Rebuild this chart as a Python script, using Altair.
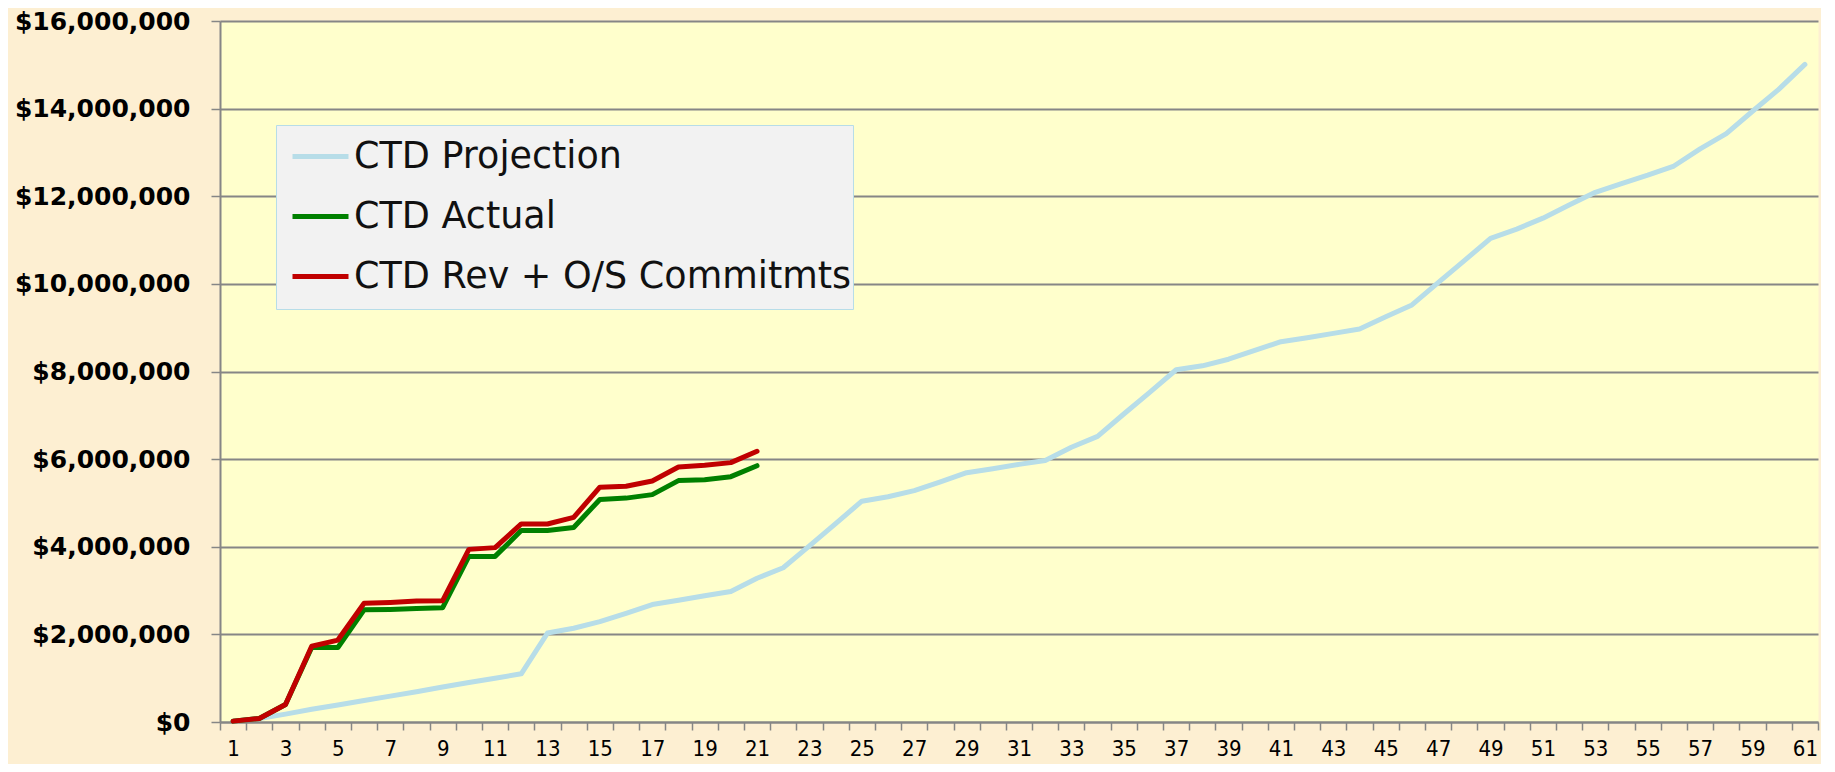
import altair as alt
import pandas as pd

periods = list(range(1, 62))

projection = [
    20000, 80000, 180000, 290000, 390000, 490000, 590000, 690000, 800000, 900000,
    1000000, 1100000, 2030000, 2140000, 2290000, 2480000, 2680000, 2780000, 2880000, 2980000,
    3280000, 3520000, 4020000, 4530000, 5040000, 5140000, 5280000, 5480000, 5690000, 5780000,
    5880000, 5970000, 6270000, 6520000, 7030000, 7530000, 8040000, 8130000, 8280000, 8480000,
    8680000, 8770000, 8870000, 8970000, 9250000, 9520000, 10030000, 10530000, 11040000, 11250000,
    11500000, 11800000, 12090000, 12290000, 12480000, 12690000, 13080000, 13430000, 13940000, 14440000,
    15010000,
]

actual = [
    20000, 80000, 400000, 1700000, 1700000, 2560000, 2570000, 2590000, 2610000, 3780000,
    3780000, 4370000, 4370000, 4440000, 5080000, 5110000, 5190000, 5510000, 5530000, 5600000,
    5850000,
]

rev_commit = [
    20000, 80000, 400000, 1730000, 1870000, 2710000, 2730000, 2760000, 2770000, 3940000,
    3980000, 4520000, 4520000, 4670000, 5360000, 5380000, 5500000, 5820000, 5860000, 5920000,
    6180000,
]

series_names = ["CTD Projection", "CTD Actual", "CTD Rev + O/S Commitmts"]
series_colors = ["#B7DDE8", "#008000", "#C00000"]
y_ticks = [0, 2000000, 4000000, 6000000, 8000000, 10000000, 12000000, 14000000, 16000000]

rows = []
for idx, (name, vals) in enumerate(zip(series_names, [projection, actual, rev_commit])):
    for p, v in zip(periods, vals):
        rows.append({"period": p, "value": v, "series": name, "sorder": idx})
df = pd.DataFrame(rows)

grid_gray = "#868686"

chart = (
    alt.Chart(df)
    .mark_line(strokeWidth=5, strokeCap="round", strokeJoin="round")
    .encode(
        x=alt.X(
            "period:O",
            bandPosition=0.5,
            scale=alt.Scale(type="band", paddingInner=0, paddingOuter=0),
            axis=alt.Axis(
                title=None,
                labelAngle=0,
                tickBand="extent",
                labelExpr="datum.value % 2 == 1 ? datum.label : ''",
                labelOverlap=False,
                labelFlush=False,
                grid=False,
                domainColor=grid_gray,
                domainWidth=2,
                tickColor=grid_gray,
                tickWidth=1.5,
                tickSize=8,
                labelFont="'Liberation Sans Narrow', 'DejaVu Sans Condensed', sans-serif",
                labelFontSize=22,
                labelColor="#000000",
                labelPadding=8,
            ),
        ),
        y=alt.Y(
            "value:Q",
            scale=alt.Scale(domain=[0, 16000000], nice=False),
            axis=alt.Axis(
                title=None,
                values=y_ticks,
                format="$,.0f",
                domainColor=grid_gray,
                domainWidth=2,
                tickColor=grid_gray,
                tickWidth=1.5,
                tickSize=9,
                gridColor=grid_gray,
                gridWidth=2,
                labelFont="DejaVu Sans",
                labelFontWeight="bold",
                labelFontSize=25,
                labelColor="#000000",
                labelPadding=21,
            ),
        ),
        color=alt.Color(
            "series:N",
            scale=alt.Scale(domain=series_names, range=series_colors),
            sort=series_names,
            legend=alt.Legend(
                title=" ",
                titleOrient="bottom",
                titleFontSize=9,
                titlePadding=4,
                orient="none",
                legendX=56,
                legendY=104,
                symbolType="stroke",
                symbolStrokeWidth=5,
                symbolSize=3136,
                symbolOffset=13,
                labelFont="DejaVu Sans",
                labelFontSize=36.5,
                labelColor="#111111",
                labelLimit=900,
                labelOffset=3,
                rowPadding=11,
                padding=1,
                fillColor="#F2F2F2",
                strokeColor="#B7DDE8",
            ),
        ),
        order=alt.Order("sorder:Q"),
    )
    .properties(
        width=1598,
        height=701,
        autosize=alt.AutoSizeParams(type="none"),
        padding={"left": 212, "top": 13, "right": 3, "bottom": 42},
        background="#FDEFD2",
    )
    .configure_view(fill="#FFFFCC", stroke="transparent")
)

chart.save("out.html", embed_options={"renderer": "svg", "actions": False})
